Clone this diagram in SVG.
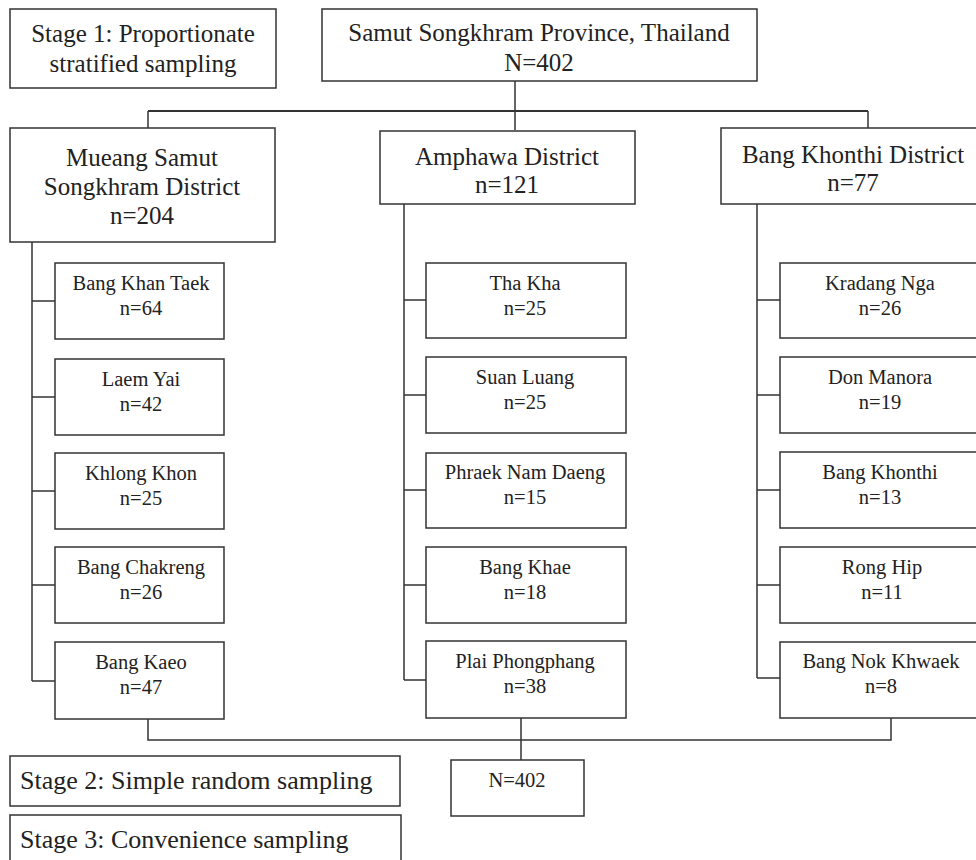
<svg xmlns="http://www.w3.org/2000/svg" width="976" height="860" viewBox="0 0 976 860">
<style>
.b{fill:#fff;stroke:#333;stroke-width:1.5}
.l{fill:none;stroke:#333;stroke-width:1.5}
text{font-family:"Liberation Serif","DejaVu Serif",serif;fill:#222}
.t{text-anchor:middle}
.big{font-size:25px}
.sm{font-size:20.5px}
.st{font-size:26px}
</style>
<rect width="976" height="860" fill="#fff"/>
<g id="connectors">
<path class="l" d="M515 81V130"/>
<path class="l" d="M148 111H868" style="stroke-width:2"/>
<path class="l" d="M148 111V128M868 111V128"/>
<path class="l" d="M32 242V681M32 301H55M32 397H55M32 491H55M32 585H55M32 681H55"/>
<path class="l" d="M404 204V680M404 300H426M404 395H426M404 490H426M404 585H426M404 680H426"/>
<path class="l" d="M757 204V678M757 300H780M757 395H780M757 490H780M757 585H780M757 678H780"/>
<path class="l" d="M148 719V740H891V718M521 718V760"/>
</g>
<g id="stage1"><rect class="b" x="10" y="9" width="266" height="79"/><text class="t big" x="143" y="42">Stage 1: Proportionate</text><text class="t big" x="143" y="72">stratified sampling</text></g>
<g id="province"><rect class="b" x="322" y="9" width="435" height="72"/><text class="t big" x="539" y="41">Samut Songkhram Province, Thailand</text><text class="t big" x="539" y="71">N=402</text></g>
<g id="mueang"><rect class="b" x="10" y="128" width="265" height="114"/><text class="t big" x="142" y="166">Mueang Samut</text><text class="t big" x="142" y="195">Songkhram District</text><text class="t big" x="142" y="224">n=204</text></g>
<g id="amphawa"><rect class="b" x="380" y="131" width="255" height="73"/><text class="t big" x="507" y="165">Amphawa District</text><text class="t big" x="507" y="193">n=121</text></g>
<g id="bangkhonthi-district"><rect class="b" x="721" y="128" width="262" height="76"/><text class="t big" x="853" y="163">Bang Khonthi District</text><text class="t big" x="853" y="191">n=77</text></g>

<g id="bang-khan-taek"><rect class="b" x="55" y="263" width="169" height="76"/><text class="t sm" x="141" y="290">Bang Khan Taek</text><text class="t sm" x="141" y="315">n=64</text></g>
<g id="laem-yai"><rect class="b" x="55" y="359" width="169" height="76"/><text class="t sm" x="141" y="386">Laem Yai</text><text class="t sm" x="141" y="411">n=42</text></g>
<g id="khlong-khon"><rect class="b" x="55" y="453" width="169" height="76"/><text class="t sm" x="141" y="480">Khlong Khon</text><text class="t sm" x="141" y="505">n=25</text></g>
<g id="bang-chakreng"><rect class="b" x="55" y="547" width="169" height="76"/><text class="t sm" x="141" y="574">Bang Chakreng</text><text class="t sm" x="141" y="599">n=26</text></g>
<g id="bang-kaeo"><rect class="b" x="55" y="642" width="169" height="77"/><text class="t sm" x="141" y="669">Bang Kaeo</text><text class="t sm" x="141" y="694">n=47</text></g>

<g id="tha-kha"><rect class="b" x="426" y="263" width="200" height="75"/><text class="t sm" x="525" y="290">Tha Kha</text><text class="t sm" x="525" y="315">n=25</text></g>
<g id="suan-luang"><rect class="b" x="426" y="357" width="200" height="76"/><text class="t sm" x="525" y="384">Suan Luang</text><text class="t sm" x="525" y="409">n=25</text></g>
<g id="phraek-nam-daeng"><rect class="b" x="426" y="453" width="200" height="75"/><text class="t sm" x="525" y="479">Phraek Nam Daeng</text><text class="t sm" x="525" y="504">n=15</text></g>
<g id="bang-khae"><rect class="b" x="426" y="547" width="200" height="76"/><text class="t sm" x="525" y="574">Bang Khae</text><text class="t sm" x="525" y="599">n=18</text></g>
<g id="plai-phongphang"><rect class="b" x="426" y="641" width="200" height="77"/><text class="t sm" x="525" y="668">Plai Phongphang</text><text class="t sm" x="525" y="693">n=38</text></g>

<g id="kradang-nga"><rect class="b" x="780" y="263" width="210" height="75"/><text class="t sm" x="880" y="290">Kradang Nga</text><text class="t sm" x="880" y="315">n=26</text></g>
<g id="don-manora"><rect class="b" x="780" y="357" width="210" height="76"/><text class="t sm" x="880" y="384">Don Manora</text><text class="t sm" x="880" y="409">n=19</text></g>
<g id="bang-khonthi"><rect class="b" x="780" y="452" width="210" height="76"/><text class="t sm" x="880" y="479">Bang Khonthi</text><text class="t sm" x="880" y="504">n=13</text></g>
<g id="rong-hip"><rect class="b" x="780" y="547" width="210" height="76"/><text class="t sm" x="882" y="574">Rong Hip</text><text class="t sm" x="882" y="599">n=11</text></g>
<g id="bang-nok-khwaek"><rect class="b" x="780" y="642" width="210" height="76"/><text class="t sm" x="881" y="668">Bang Nok Khwaek</text><text class="t sm" x="881" y="693">n=8</text></g>

<g id="stage2"><rect class="b" x="10" y="756" width="390" height="50"/><text class="st" x="20" y="789">Stage 2: Simple random sampling</text></g>
<g id="total"><rect class="b" x="451" y="760" width="133" height="56"/><text class="t sm" x="517" y="787">N=402</text></g>
<g id="stage3"><rect class="b" x="10" y="815" width="391" height="60"/><text class="st" x="20" y="848">Stage 3: Convenience sampling</text></g>
</svg>
